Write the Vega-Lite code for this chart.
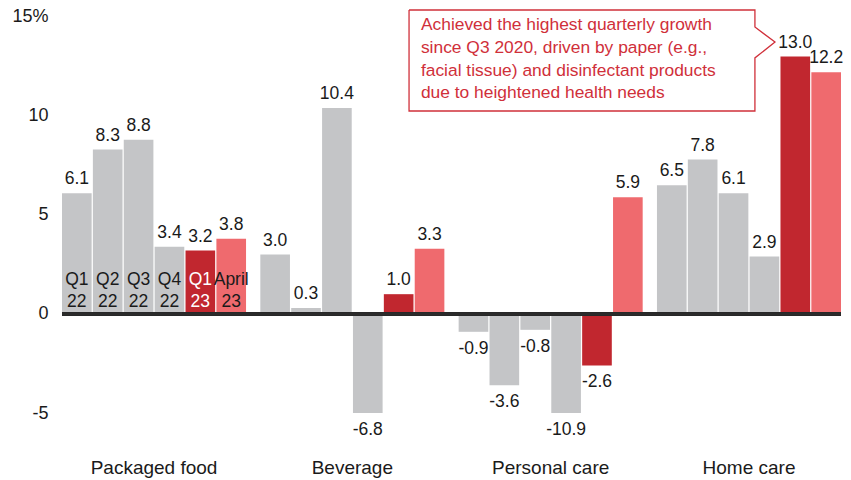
{
  "$schema": "https://vega.github.io/schema/vega-lite/v6.json",
  "autosize": {"type": "none"},
  "padding": {"left": 62, "top": 9, "right": 10, "bottom": 67},
  "width": 779,
  "height": 404,
  "background": "white",
  "config": {
    "view": {"stroke": null},
    "font": "Liberation Sans",
    "locale": {"number": {"decimal": ".", "thousands": ",", "grouping": [3], "currency": ["$", ""], "minus": "-"}}
  },
  "data": {"values": [
    {"cat": "Packaged food", "period": "Q1 22", "v": 6.1},
    {"cat": "Packaged food", "period": "Q2 22", "v": 8.3},
    {"cat": "Packaged food", "period": "Q3 22", "v": 8.8},
    {"cat": "Packaged food", "period": "Q4 22", "v": 3.4},
    {"cat": "Packaged food", "period": "Q1 23", "v": 3.2},
    {"cat": "Packaged food", "period": "April 23", "v": 3.8},
    {"cat": "Beverage", "period": "Q1 22", "v": 3.0},
    {"cat": "Beverage", "period": "Q2 22", "v": 0.3},
    {"cat": "Beverage", "period": "Q3 22", "v": 10.4},
    {"cat": "Beverage", "period": "Q4 22", "v": -6.8},
    {"cat": "Beverage", "period": "Q1 23", "v": 1.0},
    {"cat": "Beverage", "period": "April 23", "v": 3.3},
    {"cat": "Personal care", "period": "Q1 22", "v": -0.9},
    {"cat": "Personal care", "period": "Q2 22", "v": -3.6},
    {"cat": "Personal care", "period": "Q3 22", "v": -0.8},
    {"cat": "Personal care", "period": "Q4 22", "v": -10.9},
    {"cat": "Personal care", "period": "Q1 23", "v": -2.6},
    {"cat": "Personal care", "period": "April 23", "v": 5.9},
    {"cat": "Home care", "period": "Q1 22", "v": 6.5},
    {"cat": "Home care", "period": "Q2 22", "v": 7.8},
    {"cat": "Home care", "period": "Q3 22", "v": 6.1},
    {"cat": "Home care", "period": "Q4 22", "v": 2.9},
    {"cat": "Home care", "period": "Q1 23", "v": 13.0},
    {"cat": "Home care", "period": "April 23", "v": 12.2}
  ]},
  "layer": [
    {
      "layer": [
        {
          "mark": {"type": "bar"},
          "encoding": {
            "x": {"field": "cat", "type": "nominal", "sort": null,
                  "scale": {"paddingInner": 0.072, "paddingOuter": 0},
                  "axis": {"title": null, "domain": false, "ticks": false, "labelAngle": 0, "labelPadding": 45, "labelFontSize": 19, "labelColor": "#1a1a1a", "labelFont": "Liberation Sans"}},
            "xOffset": {"field": "period", "type": "nominal", "sort": null, "scale": {"paddingInner": 0.04, "paddingOuter": 0}},
            "y": {"field": "v", "type": "quantitative",
                  "scale": {"domain": [-5, 15.4], "nice": false, "zero": false, "clamp": true},
                  "axis": {"title": null, "domain": false, "ticks": false, "grid": false, "values": [-5, 0, 5, 10, 15],
                           "labelExpr": "datum.value === 15 ? '15%' : datum.label", "labelPadding": 14, "labelFontSize": 18, "labelColor": "#1a1a1a", "labelFont": "Liberation Sans"}},
            "color": {"field": "period", "type": "nominal", "legend": null,
                      "scale": {"domain": ["Q1 22", "Q2 22", "Q3 22", "Q4 22", "Q1 23", "April 23"],
                                "range": ["#c4c5c7", "#c4c5c7", "#c4c5c7", "#c4c5c7", "#c1272f", "#ef6a6e"]}}
          }
        },
        {
          "transform": [{"filter": "datum.v >= 0"}],
          "mark": {"type": "text", "baseline": "middle", "dy": -14, "fontSize": 17.5, "color": "#1a1a1a"},
          "encoding": {
            "x": {"field": "cat", "type": "nominal", "sort": null},
            "xOffset": {"field": "period", "type": "nominal", "sort": null},
            "y": {"field": "v", "type": "quantitative"},
            "text": {"field": "v", "type": "quantitative", "format": ".1f"}
          }
        },
        {
          "transform": [{"filter": "datum.v < 0"}],
          "mark": {"type": "text", "baseline": "middle", "dy": 17, "fontSize": 17.5, "color": "#1a1a1a"},
          "encoding": {
            "x": {"field": "cat", "type": "nominal", "sort": null},
            "xOffset": {"field": "period", "type": "nominal", "sort": null},
            "y": {"field": "v", "type": "quantitative"},
            "text": {"field": "v", "type": "quantitative", "format": ".1f"}
          }
        },
        {
          "transform": [{"filter": "datum.cat === 'Packaged food'"}],
          "mark": {"type": "text", "baseline": "bottom", "dy": -25, "fontSize": 17.5, "lineBreak": " ", "lineHeight": 22},
          "encoding": {
            "x": {"field": "cat", "type": "nominal", "sort": null},
            "xOffset": {"field": "period", "type": "nominal", "sort": null},
            "y": {"datum": 0, "type": "quantitative"},
            "text": {"field": "period", "type": "nominal"},
            "color": {"condition": {"test": "datum.period === 'Q1 23'", "value": "white"}, "value": "#1a1a1a"}
          }
        },
        {
          "mark": {"type": "rule", "color": "#2b2b2b", "strokeWidth": 2.5},
          "encoding": {"y": {"datum": 0, "type": "quantitative"}}
        }
      ]
    },
    {
      "layer": [
        {
          "data": {"values": [
            {"o": 1, "ax": 1.782, "ay": 15.35},
            {"o": 2, "ax": 3.558, "ay": 15.35},
            {"o": 3, "ax": 3.558, "ay": 14.49},
            {"o": 4, "ax": 3.661, "ay": 13.73},
            {"o": 5, "ax": 3.558, "ay": 12.93},
            {"o": 6, "ax": 3.558, "ay": 10.25},
            {"o": 7, "ax": 1.782, "ay": 10.25},
            {"o": 8, "ax": 1.782, "ay": 15.35}
          ]},
          "mark": {"type": "line", "color": "#d0303a", "strokeWidth": 1.3, "interpolate": "linear"},
          "encoding": {
            "x": {"field": "ax", "type": "quantitative", "scale": {"domain": [0, 4], "nice": false, "zero": false}, "axis": null},
            "y": {"field": "ay", "type": "quantitative"},
            "order": {"field": "o", "type": "quantitative"}
          }
        },
        {
          "data": {"values": [
            {"ax": 1.843, "ay": 14.6, "t": "Achieved the highest quarterly growth"},
            {"ax": 1.843, "ay": 13.42, "t": "since Q3 2020, driven by paper (e.g.,"},
            {"ax": 1.843, "ay": 12.27, "t": "facial tissue) and disinfectant products"},
            {"ax": 1.843, "ay": 11.14, "t": "due to heightened health needs"}
          ]},
          "mark": {"type": "text", "align": "left", "baseline": "middle", "fontSize": 17.4, "color": "#d0303a"},
          "encoding": {
            "x": {"field": "ax", "type": "quantitative", "axis": null},
            "y": {"field": "ay", "type": "quantitative"},
            "text": {"field": "t", "type": "nominal"}
          }
        }
      ]
    }
  ],
  "resolve": {"scale": {"x": "independent"}, "axis": {"x": "independent"}}
}
